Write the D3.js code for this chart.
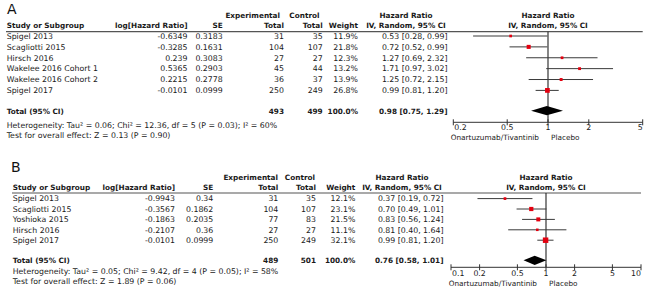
<!DOCTYPE html>
<html><head><meta charset="utf-8">
<script src="https://cdn.jsdelivr.net/npm/d3@7"></script>
<style>
body{margin:0;background:#fff;}
svg text{font-family:"DejaVu Sans",Verdana,sans-serif;font-size:7.8px;fill:#1a1a1a;}
svg text.b{font-weight:bold;font-size:7.3px;}
svg text.lab{font-size:14px;font-weight:normal;fill:#111;}
svg text.fav{font-size:7.3px;}
</style></head><body><svg id="c" width="650" height="290"></svg>
<script>
// ---------- Panel A data ----------
const studiesA = ["Spigel 2013","Scagliotti 2015","Hirsch 2016","Wakelee 2016 Cohort 1","Wakelee 2016 Cohort 2","Spigel 2017"];
const logHRA = [-0.6349,-0.3285,0.239,0.5365,0.2215,-0.0101];
const seA = [0.3183,0.1631,0.3083,0.2903,0.2778,0.0999];
const expTotalA = [31,104,27,45,36,250];
const ctrlTotalA = [35,107,27,44,37,249];
const weightA = [11.9,21.8,12.3,13.2,13.9,26.8];
const hrA = [0.53,0.72,1.27,1.71,1.25,0.99];
const loA = [0.28,0.52,0.69,0.97,0.72,0.81];
const hiA = [0.99,0.99,2.32,3.02,2.15,1.20];
const totalExpA = 493, totalCtrlA = 499, totalWeightA = 100.0;
const totalHRA = [0.98, 0.75, 1.29];
const hetA = "Heterogeneity: Tau² = 0.06; Chi² = 12.36, df = 5 (P = 0.03); I² = 60%";
const testA = "Test for overall effect: Z = 0.13 (P = 0.90)";
const ticksA = [0.2, 0.5, 1, 2, 5];
const tickLabelsA = ["0.2","0.5","1","2","5"];

// ---------- Panel B data ----------
const studiesB = ["Spigel 2013","Scagliotti 2015","Yoshioka 2015","Hirsch 2016","Spigel 2017"];
const logHRB = [-0.9943,-0.3567,-0.1863,-0.2107,-0.0101];
const seB = [0.34,0.1862,0.2035,0.36,0.0999];
const expTotalB = [31,104,77,27,250];
const ctrlTotalB = [35,107,83,27,249];
const weightB = [12.1,23.1,21.5,11.1,32.1];
const hrB = [0.37,0.70,0.83,0.81,0.99];
const loB = [0.19,0.49,0.56,0.40,0.81];
const hiB = [0.72,1.01,1.24,1.64,1.20];
const totalExpB = 489, totalCtrlB = 501, totalWeightB = 100.0;
const totalHRB = [0.76, 0.58, 1.01];
const hetB = "Heterogeneity: Tau² = 0.05; Chi² = 9.42, df = 4 (P = 0.05); I² = 58%";
const testB = "Test for overall effect: Z = 1.89 (P = 0.06)";
const ticksB = [0.1, 0.2, 0.5, 1, 2, 5, 10];
const tickLabelsB = ["0.1","0.2","0.5","1","2","5","10"];

const favLeft = "Onartuzumab/Tivantinib", favRight = "Placebo";

const svg = d3.select("#c");
const f2 = d3.format(".2f"), f1 = d3.format(".1f");
const sizeScale = d3.scaleLinear().domain([10, 33]).range([2.4, 5.6]);

function panel(D, L) {
  const g = svg.append("g");
  const n = D.studies.length;
  const y = d3.scaleLinear().domain([0, n - 1]).range([L.firstRow, L.lastRow]);
  const x = d3.scaleLog().domain(L.domain).range(L.range);
  const txt = (X, Y, s, anchor, cls) => g.append("text").attr("x", X).attr("y", Y)
      .attr("text-anchor", anchor || "start").attr("class", cls || null).text(s);

  // panel letter
  txt(L.letterX, L.letterY, L.letter, "start", "lab");
  // headers
  txt(L.c.expHdr, L.h1, "Experimental", "end", "b");
  txt(L.c.ctrlHdr, L.h1, "Control", "end", "b");
  txt(L.c.hrHdr, L.h1, "Hazard Ratio", "middle", "b");
  txt(x(1), L.h1, "Hazard Ratio", "middle", "b");
  txt(L.c.study, L.h2, "Study or Subgroup", "start", "b");
  txt(L.c.log, L.h2, "log[Hazard Ratio]", "end", "b");
  txt(L.c.se, L.h2, "SE", "end", "b");
  txt(L.c.exp, L.h2, "Total", "end", "b");
  txt(L.c.ctrl, L.h2, "Total", "end", "b");
  txt(L.c.weight, L.h2, "Weight", "end", "b");
  txt(L.c.hrHdr, L.h2, "IV, Random, 95% CI", "middle", "b");
  txt(x(1), L.h2, "IV, Random, 95% CI", "middle", "b");
  g.append("line").attr("x1", L.lineX0).attr("x2", L.range[1]).attr("y1", L.lineY).attr("y2", L.lineY)
    .attr("stroke", "#555").attr("stroke-width", 1.2);

  // rows
  const idx = d3.range(n);
  const cols = [
    [L.c.study, "start", i => D.studies[i]],
    [L.c.log, "end", i => String(D.logHR[i])],
    [L.c.se, "end", i => String(D.se[i])],
    [L.c.exp, "end", i => D.exp[i]],
    [L.c.ctrl, "end", i => D.ctrl[i]],
    [L.c.weight, "end", i => f1(D.weight[i]) + "%"],
    [L.c.hr, "end", i => `${f2(D.hr[i])} [${f2(D.lo[i])}, ${f2(D.hi[i])}]`]
  ];
  cols.forEach(([cx, anchor, fn]) => {
    g.selectAll(null).data(idx).join("text")
      .attr("x", cx).attr("y", i => y(i) + 2.8).attr("text-anchor", anchor).text(fn);
  });

  // total row
  const tY = L.totalY + 2.8;
  txt(L.c.study, tY, "Total (95% CI)", "start", "b");
  txt(L.c.exp, tY, D.totalExp, "end", "b");
  txt(L.c.ctrl, tY, D.totalCtrl, "end", "b");
  txt(L.c.weight, tY, f1(D.totalWeight) + "%", "end", "b");
  txt(L.c.hr, tY, `${f2(D.totalHR[0])} [${f2(D.totalHR[1])}, ${f2(D.totalHR[2])}]`, "end", "b");
  txt(L.c.study, L.hetY, D.het);
  txt(L.c.study, L.testY, D.test);

  // reference line at 1
  g.append("line").attr("x1", x(1)).attr("x2", x(1)).attr("y1", L.lineY).attr("y2", L.axisY)
    .attr("stroke", "#222").attr("stroke-width", 1.1);

  // CI lines
  g.selectAll(null).data(idx).join("line")
    .attr("x1", i => x(D.lo[i])).attr("x2", i => x(D.hi[i]))
    .attr("y1", i => y(i)).attr("y2", i => y(i))
    .attr("stroke", "#3a3a3a").attr("stroke-width", 1);
  // squares
  g.selectAll(null).data(idx).join("rect")
    .attr("x", i => x(D.hr[i]) - sizeScale(D.weight[i]) / 2)
    .attr("y", i => y(i) - sizeScale(D.weight[i]) / 2)
    .attr("width", i => sizeScale(D.weight[i])).attr("height", i => sizeScale(D.weight[i]))
    .attr("fill", "#e3000f");
  // diamond
  const [th, tl, tu] = D.totalHR;
  g.append("path").attr("d",
    `M${x(tl)},${L.totalY}L${x(th)},${L.totalY - 4.6}L${x(tu)},${L.totalY}L${x(th)},${L.totalY + 4.6}Z`)
    .attr("fill", "#000");

  // axis
  g.append("line").attr("x1", L.range[0]).attr("x2", L.range[1]).attr("y1", L.axisY).attr("y2", L.axisY)
    .attr("stroke", "#333").attr("stroke-width", 1);
  g.selectAll(null).data(D.ticks).join("line")
    .attr("x1", t => x(t)).attr("x2", t => x(t))
    .attr("y1", L.axisY - 3).attr("y2", L.axisY + 3)
    .attr("stroke", "#333").attr("stroke-width", 1);
  g.selectAll(null).data(D.ticks).join("text")
    .attr("x", (t, i) => x(t) + (i === 0 ? 1 : 0))
    .attr("y", L.tickY)
    .attr("text-anchor", (t, i) => i === 0 ? "start" : (i === D.ticks.length - 1 ? "end" : "middle"))
    .text((t, i) => D.tickLabels[i]);
  txt(x(1) - 9, L.favY, favLeft, "end", "fav");
  txt(x(1) + 3, L.favY, favRight, "start", "fav");
}

panel({
  studies: studiesA, logHR: logHRA, se: seA, exp: expTotalA, ctrl: ctrlTotalA,
  weight: weightA, hr: hrA, lo: loA, hi: hiA, totalExp: totalExpA, totalCtrl: totalCtrlA,
  totalWeight: totalWeightA, totalHR: totalHRA, het: hetA, test: testA,
  ticks: ticksA, tickLabels: tickLabelsA
}, {
  letter: "A", letterX: 7, letterY: 13.5,
  h1: 17.6, h2: 27.6, lineY: 31.7, lineX0: 6,
  c: {study: 6.7, log: 187.5, se: 222.7, exp: 284, ctrl: 322.7, weight: 358, hr: 447.5,
      hrHdr: 406, expHdr: 280, ctrlHdr: 319.5},
  firstRow: 36, lastRow: 90.4, totalY: 110.7, hetY: 127.8, testY: 137.8,
  domain: [0.2, 5], range: [453.3, 642.7], axisY: 122.3, tickY: 130.3, favY: 140
});

panel({
  studies: studiesB, logHR: logHRB, se: seB, exp: expTotalB, ctrl: ctrlTotalB,
  weight: weightB, hr: hrB, lo: loB, hi: hiB, totalExp: totalExpB, totalCtrl: totalCtrlB,
  totalWeight: totalWeightB, totalHR: totalHRB, het: hetB, test: testB,
  ticks: ticksB, tickLabels: tickLabelsB
}, {
  letter: "B", letterX: 11, letterY: 172,
  h1: 180.3, h2: 190.4, lineY: 193, lineX0: 12,
  c: {study: 12.7, log: 175, se: 213.3, exp: 278.3, ctrl: 316, weight: 355.3, hr: 443.5,
      hrHdr: 402, expHdr: 278, ctrlHdr: 315},
  firstRow: 198.6, lastRow: 240.2, totalY: 260.3, hetY: 273.8, testY: 283.8,
  domain: [0.1, 10], range: [451, 641], axisY: 267.3, tickY: 275.5, favY: 285.5
});
</script></body></html>
